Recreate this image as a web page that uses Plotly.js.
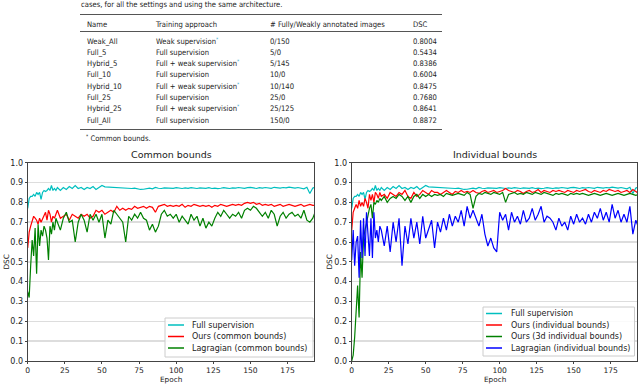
<!DOCTYPE html>
<html>
<head>
<meta charset="utf-8">
<script src="https://cdn.plot.ly/plotly-3.0.1.min.js"></script>
<style>
  html, body { margin: 0; padding: 0; background: #fff; }
  #page { position: relative; width: 640px; height: 384px; overflow: hidden; }
  #chart { position: absolute; left: 0; top: 0; width: 640px; height: 384px; }
  #tbl { position: absolute; left: 0; top: 0; width: 640px; height: 150px; z-index: 2;
         font-family: "Liberation Sans Narrow", "DejaVu Sans Condensed", "Liberation Sans", sans-serif;
         font-size: 7.6px; color: #222; }
  #tbl .t { position: absolute; white-space: nowrap; line-height: 9px; height: 9px; }
  #tbl .rule { position: absolute; left: 80px; width: 362px; height: 1.4px; background: #555; }
  #tbl .ast { color: #3aa9cf; font-size: 5px; position: relative; top: -3px; }
</style>
</head>
<body>
<div id="page">
  <div id="chart"></div>
  <div id="tbl"></div>
</div>
<script>
// ---- table data ----
const caption = "cases, for all the settings and using the same architecture.";
const tableHeader = ["Name", "Training approach", "# Fully/Weakly annotated images", "DSC"];
const runNames = ["Weak_All", "Full_5", "Hybrid_5", "Full_10", "Hybrid_10", "Full_25", "Hybrid_25", "Full_All"];
const approaches = ["Weak supervision", "Full supervision", "Full + weak supervision", "Full supervision",
  "Full + weak supervision", "Full supervision", "Full + weak supervision", "Full supervision"];
const commonBound = [true, false, true, false, true, false, true, false];
const imageCounts = ["0/150", "5/0", "5/145", "10/0", "10/140", "25/0", "25/125", "150/0"];
const dscValues = ["0.8004", "0.5434", "0.8386", "0.6004", "0.8475", "0.7680", "0.8641", "0.8872"];
const footnote = "Common bounds.";

// ---- curve data: epochs 0..19 every epoch, then every 2nd epoch ----
const epochs = [];
for (let e = 0; e < 20; e++) epochs.push(e);
for (let e = 20; e <= 194; e += 2) epochs.push(e);

const fullSup = [
  0.77, 0.82, 0.83, 0.83, 0.84, 0.83, 0.85, 0.84, 0.85, 0.815,
  0.85, 0.86, 0.855, 0.86, 0.87, 0.86, 0.885, 0.86, 0.87, 0.86,
  0.875, 0.86, 0.875, 0.865, 0.88, 0.87, 0.885, 0.87, 0.875, 0.865,
  0.875, 0.87, 0.88, 0.865, 0.875, 0.885, 0.878, 0.877, 0.876, 0.877,
  0.876, 0.875, 0.874, 0.872, 0.873, 0.87, 0.872, 0.868, 0.865, 0.866,
  0.87, 0.872, 0.868, 0.875, 0.871, 0.87, 0.873, 0.872, 0.869, 0.871,
  0.874, 0.872, 0.87, 0.873, 0.871, 0.874, 0.872, 0.87, 0.873, 0.872,
  0.871, 0.874, 0.87, 0.872, 0.869, 0.871, 0.874, 0.872, 0.87, 0.873,
  0.872, 0.875, 0.873, 0.871, 0.874, 0.876, 0.873, 0.87, 0.874, 0.872,
  0.875, 0.873, 0.871, 0.876, 0.874, 0.872, 0.875, 0.873, 0.877, 0.874,
  0.872, 0.875, 0.873, 0.868, 0.876, 0.845, 0.872, 0.878
];
const oursCommon = [
  0.57, 0.65, 0.68, 0.71, 0.73, 0.72, 0.71, 0.69, 0.72, 0.70,
  0.72, 0.73, 0.75, 0.71, 0.76, 0.74, 0.70, 0.73, 0.72, 0.74,
  0.76, 0.72, 0.73, 0.74, 0.71, 0.74, 0.73, 0.72, 0.74, 0.73,
  0.74, 0.72, 0.73, 0.76, 0.75, 0.76, 0.74, 0.75, 0.76, 0.75,
  0.78, 0.76, 0.77, 0.76, 0.77, 0.765, 0.78, 0.77, 0.775, 0.78,
  0.77, 0.78, 0.775, 0.75, 0.78, 0.785, 0.79, 0.78, 0.785, 0.78,
  0.785, 0.78, 0.79, 0.775, 0.785, 0.78, 0.79, 0.785, 0.78, 0.785,
  0.78, 0.785, 0.775, 0.785, 0.78, 0.79, 0.785, 0.78, 0.785, 0.79,
  0.785, 0.79, 0.785, 0.795, 0.80, 0.795, 0.80, 0.79, 0.795, 0.785,
  0.79, 0.785, 0.79, 0.78, 0.785, 0.79, 0.78, 0.785, 0.79, 0.785,
  0.78, 0.785, 0.79, 0.78, 0.785, 0.79, 0.785, 0.785
];
const lagrCommon = [
  0.35, 0.32, 0.48, 0.61, 0.53, 0.67, 0.44, 0.69, 0.58, 0.66,
  0.63, 0.68, 0.66, 0.62, 0.51, 0.68, 0.64, 0.70, 0.66, 0.72,
  0.70, 0.66, 0.72, 0.75, 0.70, 0.71, 0.60, 0.70, 0.74, 0.71,
  0.65, 0.74, 0.71, 0.74, 0.70, 0.74, 0.62, 0.71, 0.69, 0.76,
  0.74, 0.72, 0.70, 0.60, 0.73, 0.71, 0.74, 0.72, 0.75, 0.72,
  0.71, 0.66, 0.69, 0.65, 0.68, 0.74, 0.76, 0.73, 0.74, 0.72,
  0.74, 0.70, 0.73, 0.71, 0.69, 0.74, 0.71, 0.73, 0.68, 0.72,
  0.67, 0.70, 0.68, 0.72, 0.75, 0.73, 0.76, 0.74, 0.72, 0.74,
  0.73, 0.75, 0.72, 0.76, 0.77, 0.76, 0.78, 0.77, 0.75, 0.73,
  0.75, 0.72, 0.76, 0.74, 0.68, 0.73, 0.75, 0.72, 0.74, 0.75,
  0.73, 0.74, 0.72, 0.76, 0.71, 0.70, 0.72, 0.76
];
const oursIndiv = [
  0.66, 0.75, 0.77, 0.79, 0.77, 0.81, 0.78, 0.80, 0.78, 0.82,
  0.80, 0.77, 0.84, 0.81, 0.84, 0.80, 0.85, 0.84, 0.82, 0.85,
  0.83, 0.84, 0.82, 0.85, 0.84, 0.83, 0.85, 0.84, 0.86, 0.83,
  0.82, 0.85, 0.83, 0.84, 0.86, 0.85, 0.84, 0.86, 0.85, 0.85,
  0.84, 0.85, 0.86, 0.85, 0.84, 0.855, 0.85, 0.86, 0.85, 0.855,
  0.85, 0.86, 0.85, 0.845, 0.855, 0.86, 0.85, 0.855, 0.86, 0.85,
  0.855, 0.86, 0.87, 0.86, 0.855, 0.85, 0.86, 0.855, 0.845, 0.855,
  0.86, 0.85, 0.855, 0.865, 0.85, 0.86, 0.855, 0.85, 0.86, 0.855,
  0.86, 0.855, 0.85, 0.86, 0.855, 0.85, 0.86, 0.855, 0.86, 0.865,
  0.855, 0.85, 0.86, 0.855, 0.85, 0.86, 0.855, 0.865, 0.86, 0.855,
  0.86, 0.85, 0.855, 0.86, 0.85, 0.865, 0.855, 0.845
];
const ours3dIndiv = [
  0.00, 0.03, 0.12, 0.25, 0.38, 0.22, 0.55, 0.42, 0.62, 0.66,
  0.70, 0.73, 0.77, 0.79, 0.72, 0.80, 0.79, 0.81, 0.80, 0.82,
  0.81, 0.83, 0.80, 0.82, 0.83, 0.82, 0.84, 0.83, 0.81, 0.83,
  0.80, 0.83, 0.84, 0.82, 0.84, 0.83, 0.84, 0.83, 0.84, 0.835,
  0.84, 0.83, 0.845, 0.84, 0.835, 0.84, 0.845, 0.84, 0.835, 0.85,
  0.84, 0.77, 0.83, 0.845, 0.84, 0.85, 0.845, 0.84, 0.85, 0.845,
  0.84, 0.85, 0.80, 0.84, 0.845, 0.85, 0.84, 0.845, 0.84, 0.85,
  0.845, 0.84, 0.85, 0.845, 0.84, 0.85, 0.845, 0.84, 0.835, 0.845,
  0.84, 0.845, 0.84, 0.835, 0.845, 0.84, 0.845, 0.84, 0.845, 0.84,
  0.835, 0.84, 0.845, 0.84, 0.835, 0.84, 0.845, 0.84, 0.835, 0.84,
  0.845, 0.84, 0.835, 0.84, 0.845, 0.84, 0.835, 0.84
];
const lagrIndiv = [
  0.51, 0.66, 0.48, 0.60, 0.63, 0.42, 0.71, 0.52, 0.72, 0.53,
  0.75, 0.62, 0.53, 0.72, 0.52, 0.75, 0.62, 0.66, 0.60, 0.68,
  0.66, 0.58, 0.68, 0.55, 0.70, 0.60, 0.72, 0.48, 0.68, 0.59,
  0.72, 0.62, 0.70, 0.59, 0.73, 0.62, 0.66, 0.71, 0.57, 0.70,
  0.65, 0.72, 0.66, 0.74, 0.68, 0.73, 0.70, 0.76, 0.68, 0.78,
  0.72, 0.76, 0.72, 0.68, 0.74, 0.64, 0.58, 0.62, 0.57, 0.55,
  0.75, 0.71, 0.74, 0.66, 0.75, 0.70, 0.73, 0.69, 0.76, 0.70,
  0.72, 0.77, 0.71, 0.74, 0.78, 0.70, 0.73, 0.72, 0.70, 0.66,
  0.72, 0.68, 0.70, 0.66, 0.73, 0.69, 0.74, 0.70, 0.72, 0.69,
  0.74, 0.70, 0.75, 0.72, 0.77, 0.71, 0.75, 0.70, 0.79, 0.72,
  0.76, 0.70, 0.74, 0.70, 0.78, 0.64, 0.71, 0.67
];

// ---- table (plain HTML) ----
const tbl = document.getElementById('tbl');
const colX = [87, 156, 270, 413];
function put(text, x, y, extra) {
  const d = document.createElement('div');
  d.className = 't';
  d.style.left = x + 'px';
  d.style.top = y + 'px';
  d.innerHTML = text + (extra || '');
  tbl.appendChild(d);
}
function rule(y) {
  const r = document.createElement('div');
  r.className = 'rule';
  r.style.top = y + 'px';
  tbl.appendChild(r);
}
put(caption, 81, 0);
rule(13.5);
tableHeader.forEach((h, i) => put(h, colX[i], 19.5));
rule(30.5);
runNames.forEach((n, r) => {
  const y = 36.5 + r * 11.3;
  put(n, colX[0], y);
  put(approaches[r], colX[1], y, commonBound[r] ? '<span class="ast">*</span>' : '');
  put(imageCounts[r], colX[2], y);
  put(dscValues[r], colX[3], y);
});
rule(128.5);
put('<span class="ast" style="color:#222">*</span> ' + footnote, 86, 134);

// ---- charts ----
const C = { cyan: '#00bfbf', red: '#ff0000', green: '#008000', blue: '#0000ff' };
const lw = 1.2;
const font = { family: 'DejaVu Sans, sans-serif', size: 8, color: '#222' };
const xTickFont = { family: font.family, size: 7.6, color: '#222' };
function tr(y, name, color, xa, ya) {
  return { x: epochs, y: y, name: name, type: 'scatter', mode: 'lines',
    line: { color: color, width: lw }, xaxis: xa, yaxis: ya, showlegend: false };
}
const leftSeries = [
  [fullSup, 'Full supervision', C.cyan],
  [oursCommon, 'Ours (common bounds)', C.red],
  [lagrCommon, 'Lagragian (common bounds)', C.green]
];
const rightSeries = [
  [fullSup, 'Full supervision', C.cyan],
  [oursIndiv, 'Ours (individual bounds)', C.red],
  [ours3dIndiv, 'Ours (3d individual bounds)', C.green],
  [lagrIndiv, 'Lagragian (individual bounds)', C.blue]
];
const data = [
  ...leftSeries.map(s => tr(s[0], s[1], s[2], 'x', 'y')),
  ...rightSeries.map(s => tr(s[0], s[1], s[2], 'x2', 'y2'))
];

// pixel -> paper helpers
const px = v => v / 640;
const py = v => 1 - v / 384;

const yDom = [py(361), py(162.7)];
function xAx(dom, anchor) {
  return { domain: dom, anchor: anchor, range: [0, 193], tickvals: [0, 25, 50, 75, 100, 125, 150, 175],
    showgrid: false, zeroline: false, showline: true, mirror: true, linecolor: '#444', linewidth: 1,
    ticks: 'outside', ticklen: 2, tickcolor: '#444', tickfont: xTickFont };
}
function yAx(anchor) {
  return { domain: yDom, anchor: anchor, range: [0, 1], dtick: 0.1, tickformat: '.1f',
    showgrid: true, gridcolor: '#dddddd', gridwidth: 1.5, zeroline: false,
    showline: true, mirror: true, linecolor: '#444', linewidth: 1,
    ticks: 'outside', ticklen: 2, tickcolor: '#444', tickfont: font };
}

// hand-drawn legends (matplotlib-like compact boxes)
const shapes = [];
const annotations = [];
function legendBox(series, x0, y0, x1, y1, rowY, textX) {
  shapes.push({ type: 'rect', xref: 'paper', yref: 'paper', x0: px(x0), x1: px(x1), y0: py(y0), y1: py(y1),
    line: { color: '#cccccc', width: 1 }, fillcolor: 'rgba(255,255,255,0.85)', layer: 'above' });
  series.forEach((s, i) => {
    shapes.push({ type: 'line', xref: 'paper', yref: 'paper', x0: px(x0 + 3), x1: px(x0 + 19),
      y0: py(rowY[i]), y1: py(rowY[i]), line: { color: s[2], width: 1.5 }, layer: 'above' });
    annotations.push({ text: s[1], xref: 'paper', yref: 'paper', x: px(textX), y: py(rowY[i]),
      xanchor: 'left', yanchor: 'middle', showarrow: false, font: font });
  });
}
legendBox(leftSeries, 165, 318, 313, 357, [325, 336.5, 348], 190);
legendBox(rightSeries, 483, 307, 634.5, 356, [313.5, 325, 336.5, 348], 509);

const titleFont = { family: font.family, size: 9.5, color: '#222' };
const labFont = { family: font.family, size: 7.3, color: '#222' };
function label(text, x, y, f, angle) {
  annotations.push({ text: text, xref: 'paper', yref: 'paper', x: px(x), y: py(y), xanchor: 'center',
    yanchor: 'middle', textangle: angle || 0, showarrow: false, font: f });
}
label('Common bounds', 171, 155, titleFont);
label('Individual bounds', 494.5, 155, titleFont);
label('Epoch', 171, 379.5, labFont);
label('Epoch', 494.5, 379.5, labFont);
label('DSC', 5.5, 262, labFont, -90);
label('DSC', 328.5, 262, labFont, -90);

const layout = {
  width: 640, height: 384, margin: { l: 0, r: 0, t: 0, b: 0 },
  paper_bgcolor: 'rgba(0,0,0,0)', plot_bgcolor: '#ffffff', font: font, showlegend: false,
  xaxis: xAx([px(27.7), px(314.3)], 'y'),
  yaxis: yAx('x'),
  xaxis2: xAx([px(351.7), px(637.3)], 'y2'),
  yaxis2: yAx('x2'),
  shapes: shapes,
  annotations: annotations
};
Plotly.newPlot('chart', data, layout, { displayModeBar: false, staticPlot: true });
</script>
</body>
</html>
